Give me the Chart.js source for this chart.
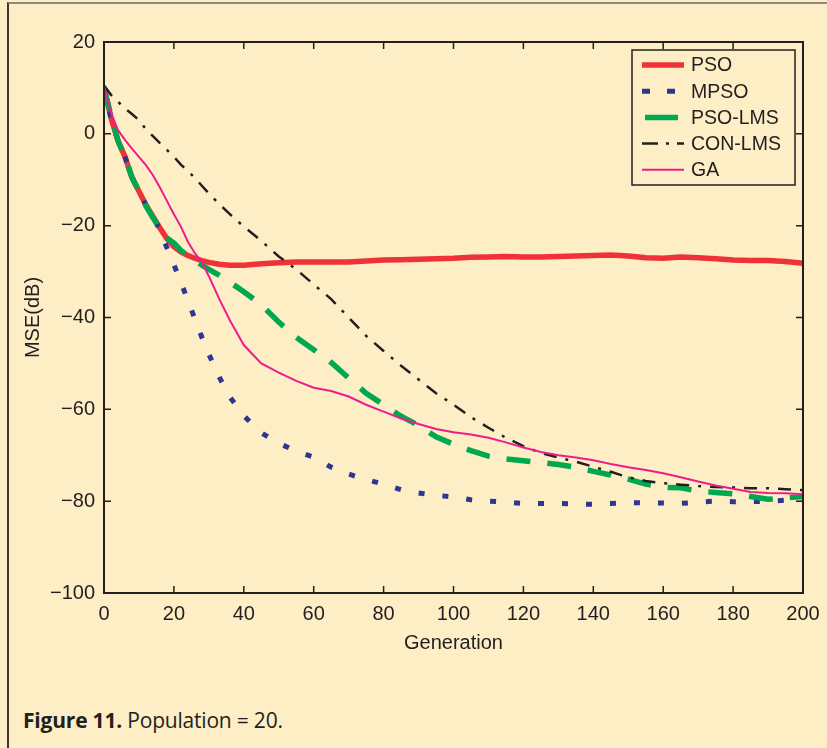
<!DOCTYPE html>
<html>
<head>
<meta charset="utf-8">
<script src="https://cdn.jsdelivr.net/npm/chart.js@4"></script>
<style>
  html, body { margin: 0; padding: 0; }
  body { width: 827px; height: 748px; background: #fdeec6; position: relative; overflow: hidden; }
  .frame { position: absolute; left: 7px; top: 2px; width: 900px; height: 900px;
           border-left: 2px solid #3b3535; border-top: 2px solid #8d8a84; }
  #wrap { position: absolute; left: 0; top: 0; width: 827px; height: 700px; }
  .caption { position: absolute; left: 23px; top: 706px; font-family: "Open Sans", Lato, sans-serif;
             font-size: 21px; color: #231f20; letter-spacing: -0.2px; }
  .caption b { font-weight: 700; }
</style>
</head>
<body>
<div class="frame"></div>
<div id="wrap"><canvas id="mseChart" width="827" height="700"></canvas></div>
<div class="caption"><b>Figure 11.</b> Population = 20.</div>
<script>
// Generation axis
const generations = [0, 2, 4, 6, 8, 10, 12, 14, 16, 18, 20, 22, 24, 26, 28, 30, 33, 36, 40, 45,
  50, 55, 60, 65, 70, 75, 80, 85, 90, 95, 100, 105, 110, 115, 120, 125, 130, 135, 140, 145,
  150, 155, 160, 165, 170, 175, 180, 185, 190, 195, 200];

// MSE (dB) per algorithm
const psoMse = [10, 3.5, -1.5, -5, -9.5, -12.5, -15.5, -18, -20.5, -22.8, -24.6, -25.7, -26.5, -27.1, -27.6, -28, -28.4, -28.6, -28.6, -28.3,
  -28.1, -27.9, -27.9, -27.9, -27.9, -27.7, -27.5, -27.4, -27.3, -27.2, -27.1, -26.9, -26.8, -26.7, -26.8, -26.8, -26.7, -26.6, -26.5, -26.4,
  -26.6, -27, -27.1, -26.8, -27, -27.2, -27.5, -27.6, -27.6, -27.8, -28.2];
const mpsoMse = [10, 3.5, -1.5, -5, -9.5, -12.5, -15.5, -18, -21, -24.8, -28.5, -32.3, -36.3, -40.3, -44.3, -48, -53, -57.3, -61.4, -65.1,
  -67.4, -69.1, -70.4, -72.6, -74.1, -75.3, -76.3, -77.5, -78.2, -78.7, -79.1, -79.7, -80, -80.2, -80.5, -80.5, -80.5, -80.6, -80.7, -80.5,
  -80.3, -80.4, -80.4, -80.5, -80.2, -80, -80.1, -80.1, -80, -79.8, -79.6];
const psoLmsMse = [10, 4, -1.5, -5.2, -9.5, -12.5, -15.7, -18.3, -20.5, -22.7, -23.8, -25.4, -26.5, -27.5, -28.6, -29.5, -30.8, -32.3, -34.4, -37.2,
  -41, -44.3, -47, -49.8, -53.2, -56.5, -59, -61.5, -63.5, -66, -67.6, -69, -70.2, -70.8, -71.2, -71.6, -72, -72.6, -73.5, -74.3,
  -75.2, -76.3, -77, -77.1, -77.8, -78.1, -78.4, -79, -79.6, -79.3, -79];
const conLmsMse = [10.5, 8.5, 7, 5.5, 4.3, 3, 1, -0.5, -2, -3.5, -5, -6.7, -8.1, -9.6, -11.3, -13, -15.3, -17.5, -20.2, -23.3,
  -26.7, -29.5, -32.8, -36, -40, -44, -47.3, -50.5, -53.5, -56.5, -59, -61.7, -64, -66.2, -68, -69.5, -70.5, -71.4, -72.5, -73.6,
  -74.8, -75.6, -76.1, -76.4, -76.7, -76.9, -77, -77.2, -77.2, -77.4, -77.6];
const gaMse = [10.5, 4.5, 0.8, -1.3, -3.2, -5, -6.8, -9, -11.7, -14.6, -17.5, -20.2, -23.5, -26, -28, -31, -36, -40.6, -46, -50,
  -52, -53.8, -55.3, -56, -57.2, -59, -60.5, -62, -63.2, -64.3, -65, -65.5, -66.2, -67.2, -68.3, -69.3, -70, -70.5, -71.1, -71.9,
  -72.6, -73.2, -73.9, -74.8, -75.7, -76.6, -77.3, -78, -78.2, -78.3, -78.5];

const xTicks = [0, 20, 40, 60, 80, 100, 120, 140, 160, 180, 200];
const yTicks = [-100, -80, -60, -40, -20, 0, 20];

const ink = '#231f20';
const font = "'Liberation Sans', Arial, sans-serif";

// legend samples: [start, end, dash]
const legendSamples = {
  'PSO': [642, 684, []],
  'MPSO': [642, 676, [8, 17]],
  'PSO-LMS': [645, 678, []],
  'CON-LMS': [642, 684, [16, 8, 3, 8]],
  'GA': [642, 684, []]
};

// box, inward ticks and legend
const framePlugin = {
  id: 'frame',
  afterDatasetsDraw(chart) {
    const { ctx, chartArea: a, scales: { x, y } } = chart;
    ctx.save();
    ctx.strokeStyle = ink;
    ctx.lineWidth = 1.5;
    ctx.beginPath();
    xTicks.forEach(v => {
      const px = x.getPixelForValue(v);
      ctx.moveTo(px, a.bottom); ctx.lineTo(px, a.bottom - 7);
      ctx.moveTo(px, a.top); ctx.lineTo(px, a.top + 7);
    });
    yTicks.forEach(v => {
      const py = y.getPixelForValue(v);
      ctx.moveTo(a.left, py); ctx.lineTo(a.left + 7, py);
      ctx.moveTo(a.right, py); ctx.lineTo(a.right - 7, py);
    });
    ctx.stroke();
    ctx.lineWidth = 2;
    ctx.strokeRect(a.left, a.top, a.right - a.left, a.bottom - a.top);

    // legend
    const lx = 632, ly = 50, lw = 163, lh = 135;
    ctx.fillStyle = '#fdeec6';
    ctx.fillRect(lx, ly, lw, lh);
    ctx.lineWidth = 1.5;
    ctx.strokeRect(lx, ly, lw, lh);
    ctx.font = '19.5px ' + font;
    ctx.textBaseline = 'middle';
    chart.data.datasets.forEach((ds, i) => {
      const cy = 65 + i * 26.2;
      const [x0, x1, dash] = legendSamples[ds.label];
      ctx.save();
      ctx.strokeStyle = ds.borderColor;
      ctx.lineWidth = ds.borderWidth;
      ctx.setLineDash(dash);
      ctx.beginPath();
      ctx.moveTo(x0, cy); ctx.lineTo(x1, cy);
      ctx.stroke();
      ctx.restore();
      ctx.fillStyle = ink;
      ctx.fillText(ds.label, 691, cy + 1);
    });
    ctx.restore();
  }
};

const minus = v => String(v).replace('-', '\u2212');

new Chart(document.getElementById('mseChart'), {
  type: 'line',
  data: {
    labels: generations,
    datasets: [
      { label: 'PSO', data: psoMse, borderColor: '#ee3238', borderWidth: 5.5, order: 4 },
      { label: 'MPSO', data: mpsoMse, borderColor: '#2e3592', borderWidth: 5, borderDash: [6, 18], order: 3 },
      { label: 'PSO-LMS', data: psoLmsMse, borderColor: '#00a84f', borderWidth: 5.5, borderDash: [24, 17], order: 2 },
      { label: 'CON-LMS', data: conLmsMse, borderColor: '#231f20', borderWidth: 2.5, borderDash: [13, 9, 3, 9], order: 1 },
      { label: 'GA', data: gaMse, borderColor: '#ec1e8e', borderWidth: 2, order: 0 }
    ]
  },
  options: {
    responsive: false,
    animation: false,
    events: [],
    layout: { padding: { top: 42, right: 24, left: 0, bottom: 0 } },
    elements: { point: { radius: 0 }, line: { tension: 0, fill: false } },
    plugins: { legend: { display: false }, tooltip: { enabled: false } },
    scales: {
      x: {
        type: 'linear', min: 0, max: 200,
        grid: { display: false }, border: { display: false },
        ticks: { stepSize: 20, color: ink, padding: 1, font: { family: font, size: 20 }, maxRotation: 0 },
        title: { display: true, text: 'Generation', color: ink, font: { family: font, size: 20 }, padding: { bottom: 45 } },
        afterFit: s => { s.height = 107; }
      },
      y: {
        min: -100, max: 20,
        grid: { display: false }, border: { display: false },
        ticks: { stepSize: 20, color: ink, padding: 1, font: { family: font, size: 20 }, callback: minus },
        title: { display: true, text: 'MSE(dB)', color: ink, font: { family: font, size: 20 }, padding: { top: 21 } },
        afterFit: s => { s.width = 104; }
      }
    }
  },
  plugins: [framePlugin]
});
</script>
</body>
</html>
